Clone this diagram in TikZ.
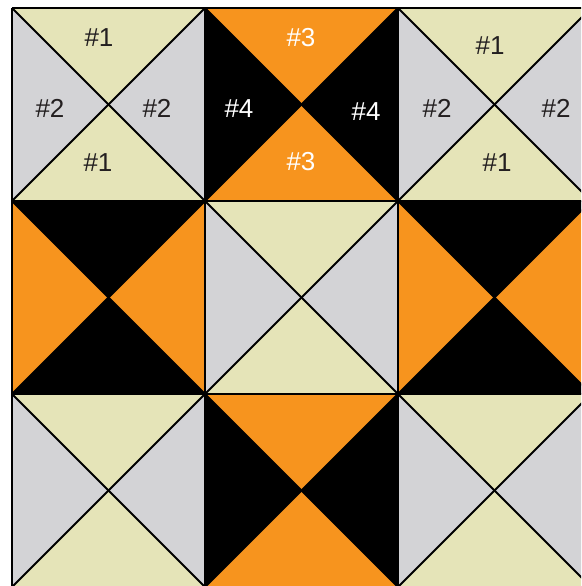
\documentclass[tikz,border=0pt]{standalone}
\usepackage{fontspec}
\setmainfont{Liberation Sans}
\definecolor{beige}{RGB}{229,228,184}
\definecolor{greyc}{RGB}{211,211,214}
\definecolor{orangec}{RGB}{247,148,30}
\definecolor{ink}{RGB}{35,31,32}
\begin{document}
\begin{tikzpicture}[x=1pt,y=-1pt,
  gridline/.style={draw=black,line width=2pt},
  lbl/.style={font=\fontsize{26}{28}\selectfont,text=ink,inner sep=0pt},
  wlbl/.style={lbl,text=white}]
\useasboundingbox (0,0) rectangle (581,586);
\begin{scope}
\clip (0,0) rectangle (581,586);
\fill[white] (0,0) rectangle (581,586);
\foreach \i in {0,1,2}{
  \foreach \j in {0,1,2}{
    \pgfmathsetmacro{\xa}{12+193*\i}
    \pgfmathsetmacro{\ya}{8+193*\j}
    \pgfmathsetmacro{\xb}{\xa+193}
    \pgfmathsetmacro{\yb}{\ya+193}
    \pgfmathsetmacro{\cx}{\xa+96.5}
    \pgfmathsetmacro{\cy}{\ya+96.5}
    \pgfmathtruncatemacro{\parity}{mod(\i+\j,2)}
    \ifnum\parity=0
      \def\tb{beige}\def\lr{greyc}
    \else
      \ifnum\j=1
        \def\tb{black}\def\lr{orangec}
      \else
        \def\tb{orangec}\def\lr{black}
      \fi
    \fi
    \fill[\tb] (\xa,\ya) -- (\xb,\ya) -- (\cx,\cy) -- cycle;
    \fill[\tb] (\xa,\yb) -- (\xb,\yb) -- (\cx,\cy) -- cycle;
    \fill[\lr] (\xa,\ya) -- (\xa,\yb) -- (\cx,\cy) -- cycle;
    \fill[\lr] (\xb,\ya) -- (\xb,\yb) -- (\cx,\cy) -- cycle;
    \draw[gridline] (\xa,\ya) -- (\xb,\yb);
    \draw[gridline] (\xb,\ya) -- (\xa,\yb);
  }
}
\foreach \k in {0,1,2,3}{
  \draw[gridline] (12+193*\k,8) -- (12+193*\k,600);
  \draw[gridline] (12,8+193*\k) -- (600,8+193*\k);
}
\end{scope}
\node[lbl] (a1) at (99,38) {\#1};
\node[lbl] (a2) at (50,108) {\#2};
\node[lbl] (a3) at (157,108) {\#2};
\node[lbl] (a4) at (98,163) {\#1};
\node[wlbl] (b1) at (301,38) {\#3};
\node[wlbl] (b2) at (239,109) {\#4};
\node[wlbl] (b3) at (366,112) {\#4};
\node[wlbl] (b4) at (301,162) {\#3};
\node[lbl] (c1) at (490,46) {\#1};
\node[lbl] (c2) at (437,108) {\#2};
\node[lbl] (c3) at (556,108) {\#2};
\node[lbl] (c4) at (497,163) {\#1};
\end{tikzpicture}
\end{document}
